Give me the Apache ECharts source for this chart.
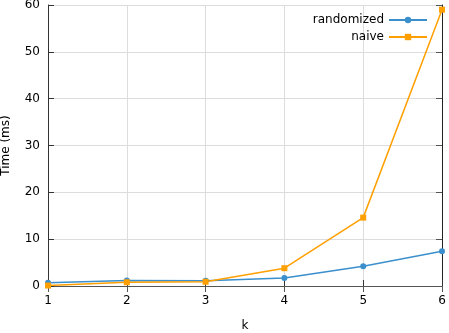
<!DOCTYPE html>
<html><head><meta charset="utf-8">
<script src="https://cdn.jsdelivr.net/npm/echarts@6/dist/echarts.min.js"></script>
<style>html,body{margin:0;padding:0;background:#fff}#c{width:449px;height:333px}</style>
</head><body><div id="c"></div>
<script>
var kValues = [1, 2, 3, 4, 5, 6];
var randomized = [0.7, 1.2, 1.1, 1.7, 4.2, 7.4];
var naive = [0.1, 0.8, 0.9, 3.8, 14.6, 59.0];
var seriesNames = ['randomized', 'naive'];
var colors = ['#3a8fcc', '#ff9f00'];
function pairs(v){ return kValues.map(function(k,i){ return [k, v[i]]; }); }
var font = 'DejaVu Sans';
var chart = echarts.init(document.getElementById('c'));
var axisLine = {show:true, lineStyle:{color:'#333', width:1}};
chart.setOption({
  animation:false,
  textStyle:{fontFamily:font},
  grid:{left:48, right:7, top:5, bottom:47, containLabel:false, outerBoundsMode:'none'},
  legend:{
    data:seriesNames, right:16, top:9, orient:'vertical', align:'right',
    itemWidth:38, itemHeight:8, itemGap:5,
    textStyle:{fontFamily:font, fontSize:12, color:'#000'}
  },
  xAxis:[{
    type:'value', min:1, max:6, interval:1, name:'k', nameLocation:'middle', nameGap:34, nameMoveOverlap:false,
    nameTextStyle:{fontFamily:font, fontSize:12, color:'#000'},
    axisLine:axisLine, axisTick:{show:true, inside:true, length:6, lineStyle:{color:'#333'}},
    axisLabel:{fontFamily:font, fontSize:12, color:'#000', margin:9},
    splitLine:{show:true, lineStyle:{color:'#dcdcdc', width:1}}
  },{
    type:'value', position:'top', min:1, max:6, interval:1,
    axisLine:{show:true, lineStyle:{color:'#555'}}, axisTick:{show:true, inside:true, length:6, lineStyle:{color:'#555'}},
    axisLabel:{show:false}, splitLine:{show:false}
  }],
  yAxis:[{
    type:'value', min:0, max:60, interval:10, name:'Time (ms)', nameLocation:'middle', nameGap:36, nameMoveOverlap:false,
    nameTextStyle:{fontFamily:font, fontSize:12, color:'#000'},
    axisLine:axisLine, axisTick:{show:true, inside:true, length:6, lineStyle:{color:'#333'}},
    axisLabel:{fontFamily:font, fontSize:12, color:'#000', margin:8},
    splitLine:{show:true, lineStyle:{color:'#dcdcdc', width:1}}
  },{
    type:'value', position:'right', min:0, max:60, interval:10,
    axisLine:{show:true, lineStyle:{color:'#222'}}, axisTick:{show:true, inside:true, length:6, lineStyle:{color:'#555'}},
    axisLabel:{show:false}, splitLine:{show:false}
  }],
  series:[{
    name:seriesNames[0], type:'line', data:pairs(randomized), color:colors[0],
    symbol:'circle', symbolSize:6, lineStyle:{width:1.5}, itemStyle:{color:colors[0]}
  },{
    name:seriesNames[1], type:'line', data:pairs(naive), color:colors[1],
    symbol:'rect', symbolSize:6, lineStyle:{width:1.5}, itemStyle:{color:colors[1]}
  }]
});
</script></body></html>
